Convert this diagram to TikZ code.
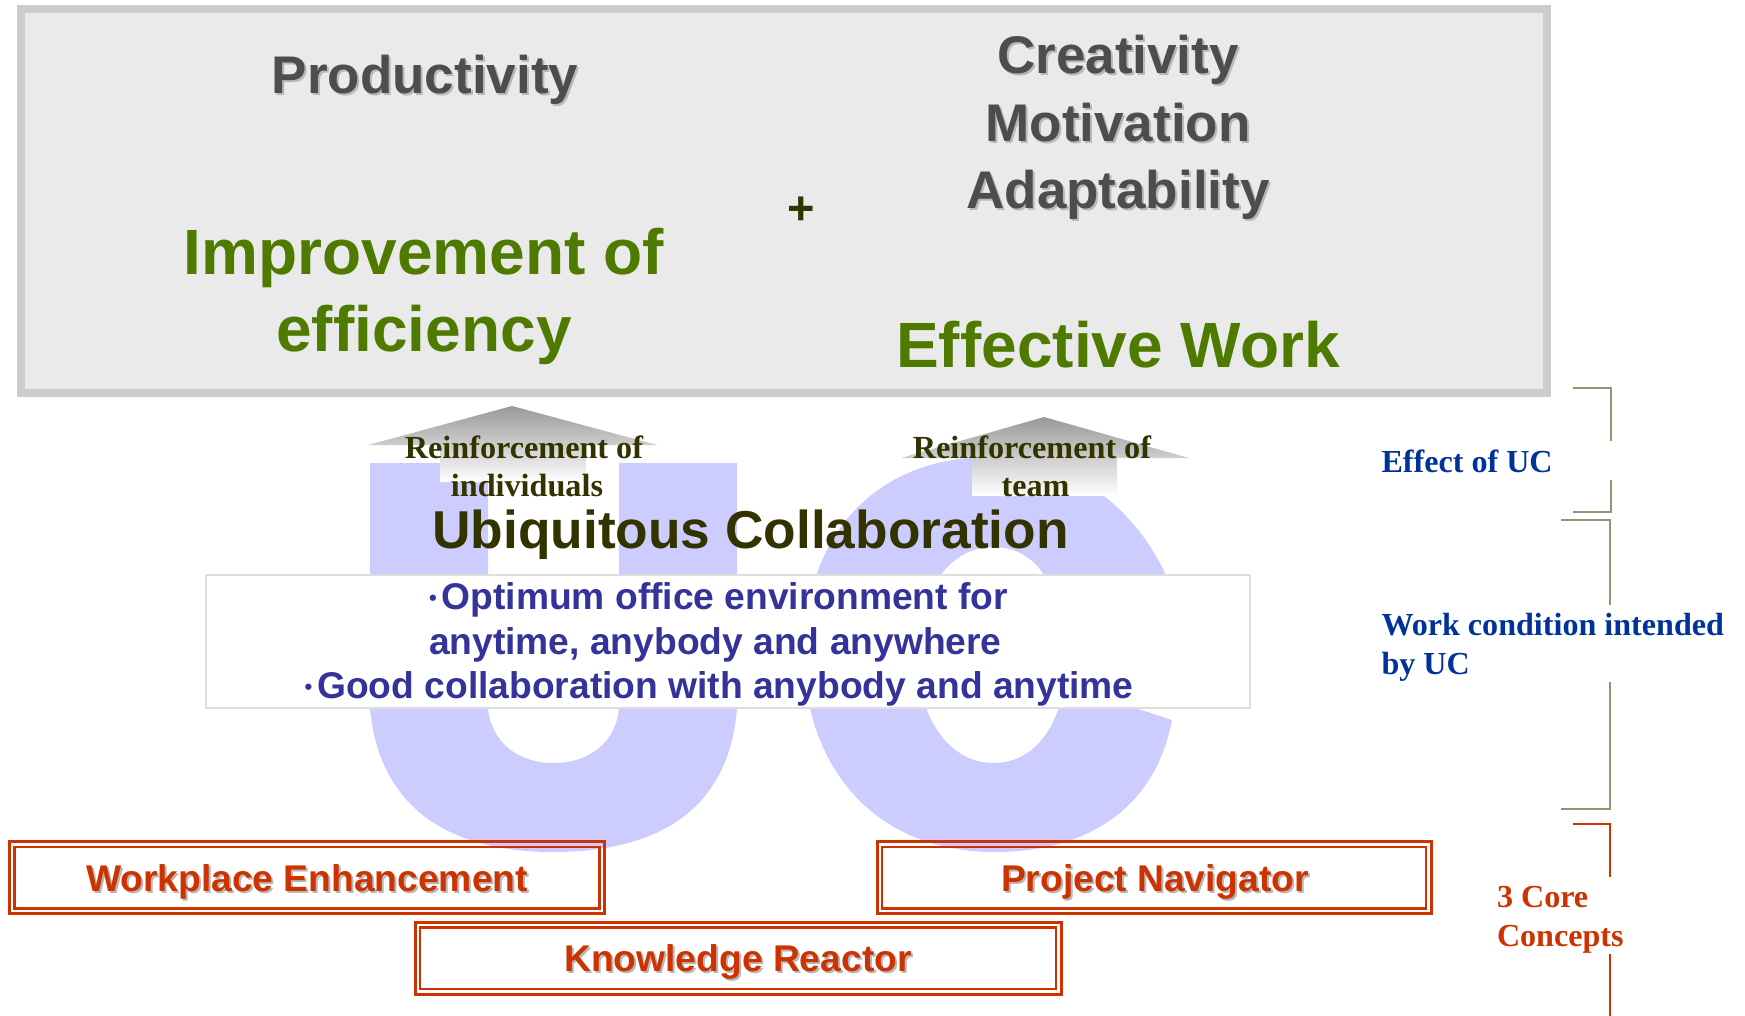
\documentclass[tikz,border=0pt]{standalone}
\usepackage{fontspec}
\setmainfont{Liberation Serif}
\setsansfont{Liberation Sans}
\usetikzlibrary{shadings}
\definecolor{panelline}{HTML}{CCCCCC}
\definecolor{panelfill}{HTML}{EAEAEA}
\definecolor{greyink}{HTML}{4D4D4D}
\definecolor{shadowink}{HTML}{B8B8B8}
\definecolor{greenink}{HTML}{4F7A00}
\definecolor{oliveink}{HTML}{333300}
\definecolor{ucfill}{HTML}{CCCCFF}
\definecolor{blueink}{HTML}{333399}
\definecolor{redink}{HTML}{CC3300}
\definecolor{navyink}{HTML}{003399}
\definecolor{bracketline}{HTML}{8A9A70}
\newcommand{\shadowed}[2]{\leavevmode\rlap{\hspace{2pt}\raisebox{-2pt}{\textcolor{shadowink}{#2}}}\textcolor{#1}{#2}}
\newcommand{\fs}[1]{\fontsize{#1pt}{#1pt}\selectfont}
\tikzset{
 txt/.style={inner sep=0pt,outer sep=0pt,anchor=base},
 sans/.style={txt,font=\sffamily\bfseries},
 serif/.style={txt,font=\rmfamily\bfseries},
 head/.style={sans,font=\sffamily\bfseries\fs{53}},
 green/.style={sans,font=\sffamily\bfseries\fs{64},text=greenink},
 bluetext/.style={sans,font=\sffamily\bfseries\fs{37.2},text=blueink,anchor=base west},
 redtext/.style={sans,font=\sffamily\bfseries\fs{37.2}},
 arrowlabel/.style={serif,font=\rmfamily\bfseries\fs{32.2},text=oliveink},
 sidelabel/.style={serif,font=\rmfamily\bfseries\fs{32.1},anchor=base west},
 redouter/.style={draw=redink,line width=3pt,fill=none},
 redinner/.style={draw=redink,line width=2.8pt,fill=none},
 bracket/.style={draw=bracketline,line width=1.6pt},
 redbracket/.style={draw=redink,line width=1.6pt},
 uparrow/.style={top color=gray!80,bottom color=white,draw=none},
}
\begin{document}
\begin{tikzpicture}[x=1pt,y=-1pt]
\useasboundingbox (0,0) rectangle (1745,1016);
% panel
\node[draw=panelline,line width=8pt,fill=panelfill,minimum width=1526pt,minimum height=384pt,anchor=north west,inner sep=0pt] (panel) at (17,5) {};
% U
\fill[ucfill] (370,463) -- (488,463) -- (488,708)
  .. controls (491,742) and (518,763) .. (553,763)
  .. controls (590,763) and (616,742) .. (619,708)
  -- (619,463) -- (737,463) -- (737,708)
  .. controls (730,800) and (670,852) .. (553,852)
  .. controls (440,852) and (378,800) .. (370,708) -- cycle;
% C
\fill[ucfill] (1172,720)
  .. controls (1155,810) and (1085,852) .. (995,852)
  .. controls (880,852) and (810,775) .. (804,665)
  .. controls (800,540) and (872,457) .. (990,457)
  .. controls (1090,457) and (1150,530) .. (1172,590)
  -- (1063,630)
  .. controls (1055,575) and (1030,547) .. (993,547)
  .. controls (945,547) and (917,600) .. (917,655)
  .. controls (917,715) and (948,763) .. (993,763)
  .. controls (1030,763) and (1055,735) .. (1065,685) -- cycle;
% arrows
\shade[uparrow] (512,406) -- (657,445) -- (586,445) -- (586,482) -- (440,482) -- (440,445) -- (368,445) -- cycle;
\shade[uparrow] (1044,417) -- (1189,458) -- (1117,458) -- (1117,496) -- (972,496) -- (972,458) -- (901,458) -- cycle;
% middle box
\node[draw=black!13,line width=2pt,fill=white,minimum width=1044pt,minimum height=133pt,anchor=north west,inner sep=0pt] (condbox) at (205,574) {};
% panel text
\node[head] (prod) at (425,94) {\shadowed{greyink}{Productivity}};
\node[green] (impr) at (424,275) {Improvement of};
\node[green] (effi) at (424,351) {efficiency};
\node[sans,font=\sffamily\bfseries\fs{47},text=oliveink] (plus) at (801.5,225) {+};
\node[head] (crea) at (1118,74) {\shadowed{greyink}{Creativity}};
\node[head] (moti) at (1118,141.5) {\shadowed{greyink}{Motivation}};
\node[head] (adap) at (1118,209) {\shadowed{greyink}{Adaptability}};
\node[green] (effw) at (1118,367) {Effective Work};
% arrow labels
\node[arrowlabel] (r1) at (524,458) {Reinforcement of};
\node[arrowlabel] (r1b) at (527,496) {individuals};
\node[arrowlabel] (r2) at (1032,458) {Reinforcement of};
\node[arrowlabel] (r2b) at (1035.5,496) {team};
\node[sans,font=\sffamily\bfseries\fs{53.3},text=oliveink] (ubi) at (750.5,548) {Ubiquitous Collaboration};
% middle text
\node[bluetext] (b1) at (429,609) {{\fs{22}\raisebox{4pt}{•}}\hspace{5pt}Optimum office environment for};
\node[bluetext] (b2) at (429,654) {anytime, anybody and anywhere};
\node[bluetext] (b3) at (304.5,698.5) {{\fs{22}\raisebox{4pt}{•}}\hspace{5pt}Good collaboration with anybody and anytime};
% red boxes
\node[redouter,minimum width=595pt,minimum height=72pt,anchor=north west,inner sep=0pt] (we) at (8,840) {};
\node[redinner,minimum width=585pt,minimum height=61.5pt,anchor=north west,inner sep=0pt] (wei) at (13,845.5) {};
\node[redtext] (wet) at (307,891) {\shadowed{redink}{Workplace Enhancement}};
\node[redouter,minimum width=554pt,minimum height=72pt,anchor=north west,inner sep=0pt] (pn) at (875.5,840) {};
\node[redinner,minimum width=544pt,minimum height=61.5pt,anchor=north west,inner sep=0pt] (pni) at (880.5,845.5) {};
\node[redtext] (pnt) at (1155,891) {\shadowed{redink}{Project Navigator}};
\node[redouter,minimum width=646pt,minimum height=72pt,anchor=north west,inner sep=0pt] (kr) at (413.5,920.5) {};
\node[redinner,minimum width=636pt,minimum height=61.5pt,anchor=north west,inner sep=0pt] (kri) at (418.5,926) {};
\node[redtext] (krt) at (738,971) {\shadowed{redink}{Knowledge Reactor}};
% side labels
\node[sidelabel,text=navyink] (l1) at (1381.5,472) {Effect of UC};
\node[sidelabel,text=navyink] (l2) at (1381.5,635) {Work condition intended};
\node[sidelabel,text=navyink] (l3) at (1381.5,674) {by UC};
\node[sidelabel,text=redink] (l4) at (1497,907) {3 Core};
\node[sidelabel,text=redink] (l5) at (1497,946) {Concepts};
% brackets
\coordinate (a1) at (1573,388); \coordinate (a2) at (1611,388); \coordinate (a3) at (1611,441);
\coordinate (a4) at (1611,480); \coordinate (a5) at (1611,512); \coordinate (a6) at (1573,512);
\draw[bracket] (a1) -- (a2) -- (a3); \draw[bracket] (a4) -- (a5) -- (a6);
\coordinate (b1a) at (1561,520); \coordinate (b2a) at (1610,520); \coordinate (b3a) at (1610,605);
\coordinate (b4a) at (1610,682); \coordinate (b5a) at (1610,809); \coordinate (b6a) at (1561,809);
\draw[bracket] (b1a) -- (b2a) -- (b3a); \draw[bracket] (b4a) -- (b5a) -- (b6a);
\coordinate (c1) at (1573,824); \coordinate (c2) at (1610,824); \coordinate (c3) at (1610,877);
\coordinate (c4) at (1610,954); \coordinate (c5) at (1610,1016);
\draw[redbracket] (c1) -- (c2) -- (c3); \draw[redbracket] (c4) -- (c5);
\end{tikzpicture}
\end{document}
